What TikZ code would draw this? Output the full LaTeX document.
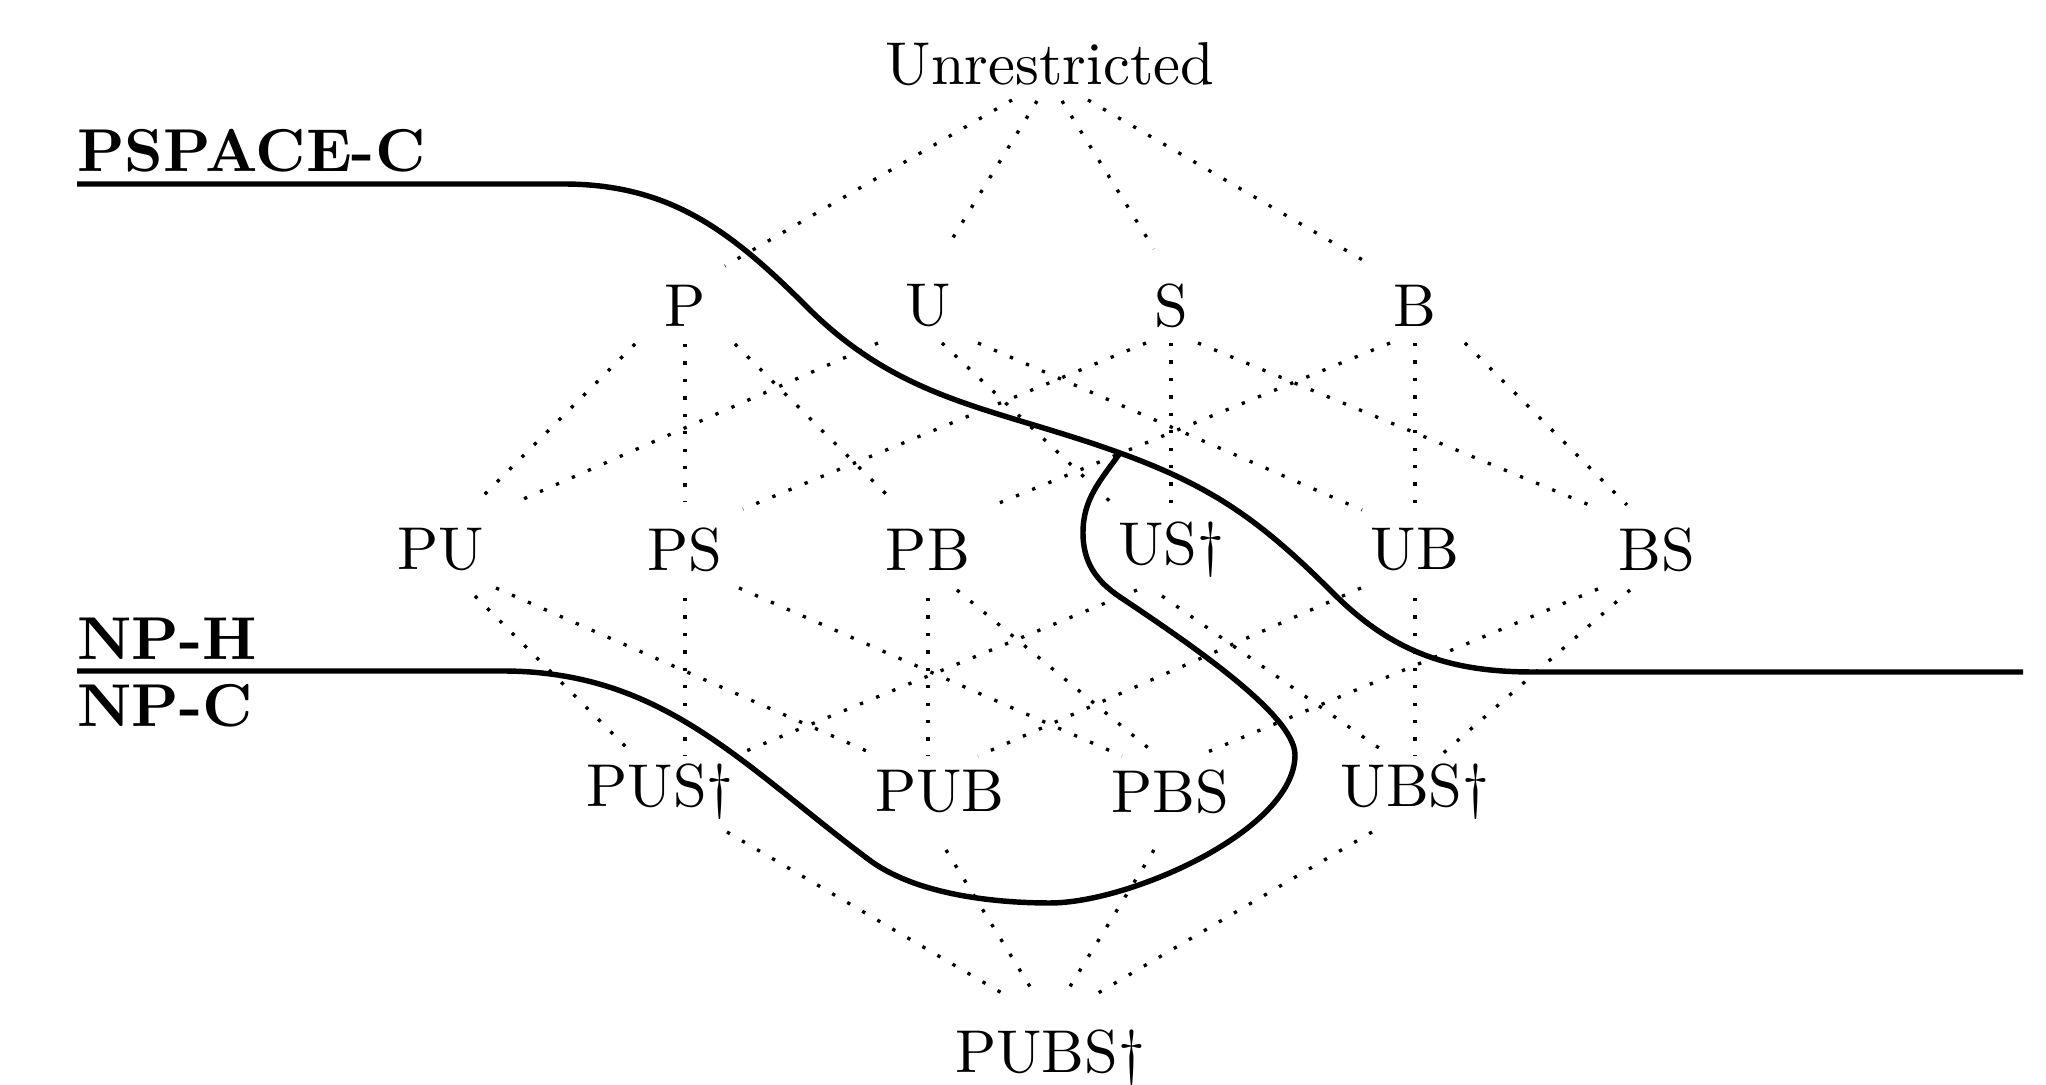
\documentclass[tikz,border=0pt]{standalone}
\usetikzlibrary{calc}
\begin{document}
\begin{tikzpicture}[x=0.16529pt,y=-0.16529pt,
  lbl/.style={inner sep=0pt},
  blbl/.style={inner sep=0pt, anchor=base west, font=\bfseries},
  edgestyle/.style={line width=0.55pt, dash pattern=on 0.55pt off 2.33pt},
  boundary/.style={line width=0.9pt}]
\useasboundingbox (0,0) rectangle (2046,1085);
\fill[white] (0,0) rectangle (2046,1085);

% lattice nodes
\node[lbl] (Unr) at (1050,64) {Unrestricted};
\node[lbl] (P) at (685,306) {P};
\node[lbl] (U) at (928,306) {U};
\node[lbl] (S) at (1171,306) {S};
\node[lbl] (B) at (1415,306) {B};
\node[lbl] (PU) at (441,550) {PU};
\node[lbl] (PS) at (685,550) {PS};
\node[lbl] (PB) at (928,550) {PB};
\node[lbl] (US) at (1171,550) {US\dag};
\node[lbl] (UB) at (1415,550) {UB};
\node[lbl] (BS) at (1657,550) {BS};
\node[lbl] (PUS) at (660,792) {PUS\dag};
\node[lbl] (PUB) at (940,792) {PUB};
\node[lbl] (PBS) at (1170,792) {PBS};
\node[lbl] (UBS) at (1415,792) {UBS\dag};
\node[lbl] (PUBS) at (1050,1058) {PUBS\dag};

% class labels
\node[blbl] (pspace) at (76,172) {PSPACE-C};
\node[blbl] (nph) at (76,660) {NP-H};
\node[blbl] (npc) at (76,727) {NP-C};

% level 0 -> 1
\draw[edgestyle] ($(Unr)+(-38,36)$) -- ($(P)+(40,-40)$);
\draw[edgestyle] ($(Unr)+(-13,37)$) -- ($(U)+(18,-57)$);
\draw[edgestyle] ($(Unr)+(12,37)$) -- ($(S)+(-17,-57)$);
\draw[edgestyle] ($(Unr)+(38,36)$) -- ($(B)+(-42,-40)$);

% level 1 -> 2
\draw[edgestyle] ($(P)+(-50,38)$) -- ($(PU)+(34,-46)$);
\draw[edgestyle] ($(P)+(0,38)$) -- ($(PS)+(0,-49)$);
\draw[edgestyle] ($(P)+(50,38)$) -- ($(PB)+(-33,-47)$);
\draw[edgestyle] ($(U)+(-50,37)$) -- ($(PU)+(71,-46)$);
\draw[edgestyle] ($(U)+(14,37)$) -- ($(US)+(-52,-40)$);
\draw[edgestyle] ($(U)+(50,37)$) -- ($(UB)+(-53,-40)$);
\draw[edgestyle] ($(S)+(-25,37)$) -- ($(PS)+(58,-41)$);
\draw[edgestyle] ($(S)+(0,37)$) -- ($(US)+(0,-45)$);
\draw[edgestyle] ($(S)+(27,37)$) -- ($(BS)+(-58,-41)$);
\draw[edgestyle] ($(B)+(-25,37)$) -- ($(PB)+(59,-42)$);
\draw[edgestyle] ($(B)+(0,37)$) -- ($(UB)+(0,-45)$);
\draw[edgestyle] ($(B)+(50,37)$) -- ($(BS)+(-30,-45)$);

% level 2 -> 3
\draw[edgestyle] ($(PU)+(34,46)$) -- ($(PUS)+(-25,-36)$);
\draw[edgestyle] ($(PU)+(55,38)$) -- ($(PUB)+(-62,-36)$);
\draw[edgestyle] ($(PS)+(0,48)$) -- ($(PUS)+(25,-37)$);
\draw[edgestyle] ($(PS)+(54,38)$) -- ($(PBS)+(-48,-36)$);
\draw[edgestyle] ($(PB)+(0,48)$) -- ($(PUB)+(-12,-37)$);
\draw[edgestyle] ($(PB)+(29,40)$) -- ($(PBS)+(-12,-36)$);
\draw[edgestyle] ($(US)+(-34,40)$) -- ($(PUS)+(74,-36)$);
\draw[edgestyle] ($(US)+(-9,46)$) -- ($(UBS)+(-26,-37)$);
\draw[edgestyle] ($(UB)+(-54,38)$) -- ($(PUB)+(38,-36)$);
\draw[edgestyle] ($(UB)+(0,48)$) -- ($(UBS)+(0,-37)$);
\draw[edgestyle] ($(BS)+(-59,39)$) -- ($(PBS)+(28,-36)$);
\draw[edgestyle] ($(BS)+(-27,40)$) -- ($(UBS)+(25,-36)$);

% level 3 -> 4
\draw[edgestyle] ($(PUS)+(67,40)$) -- ($(PUBS)+(-38,-59)$);
\draw[edgestyle] ($(PUB)+(6,58)$) -- ($(PUBS)+(-13,-60)$);
\draw[edgestyle] ($(PBS)+(-16,58)$) -- ($(PUBS)+(13,-60)$);
\draw[edgestyle] ($(UBS)+(-43,40)$) -- ($(PUBS)+(38,-59)$);

% complexity boundaries
\coordinate (junc) at (1120,453);
\draw[boundary] (77,184) -- (563,184)
  .. controls (670,184) and (731,231) .. (807,307)
  .. controls (902,402) and (993,407) .. (junc)
  .. controls (1214,487) and (1262,522) .. (1333,593)
  .. controls (1392,652) and (1449,672) .. (1533,672)
  -- (2023,672);
\draw[boundary] (77,671) -- (502,671)
  .. controls (662,671) and (740,763) .. (868,859)
  .. controls (914,894) and (992,903) .. (1050,903)
  .. controls (1130,903) and (1295,830) .. (1295,755)
  .. controls (1295,715) and (1190,644) .. (1120,597)
  .. controls (1096,581) and (1083,562) .. (1083,533)
  .. controls (1083,499) and (1100,481) .. (junc);
\end{tikzpicture}
\end{document}
